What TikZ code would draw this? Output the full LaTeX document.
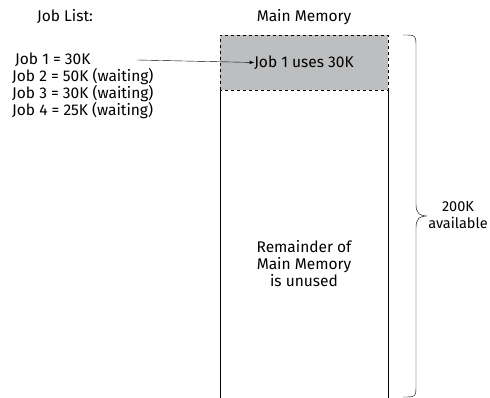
\documentclass[tikz,border=0pt]{standalone}
\usepackage{fontspec}
\setmainfont{Fira Sans}
\usepackage{xcolor}
\usetikzlibrary{positioning,calc,arrows.meta}

\definecolor{memgray}{HTML}{BDBEC0}
\tikzset{
  lbl/.style={font=\fontsize{15.5}{17}\selectfont, inner sep=0pt},
  joblbl/.style={lbl, anchor=west},
}

\begin{document}
\begin{tikzpicture}[x=1pt, y=1pt]
  \useasboundingbox (0,0) rectangle (490,398);
  % Headings
  \node[lbl] (joblist) at (65,381) {Job List:};
  \node[lbl] (mainmem) at (304,381) {Main Memory};

  % Job list
  \node[joblbl] (job1) at (15,338) {Job 1 = 30K};
  \node[joblbl] (job2) at (12,321) {Job 2 = 50K (waiting)};
  \node[joblbl] (job3) at (12,304) {Job 3 = 30K (waiting)};
  \node[joblbl] (job4) at (12,287) {Job 4 = 25K (waiting)};

  % Main memory: used part (dashed) and the rest
  \draw[thin, dashed, fill=memgray] (220,308) rectangle (388,363) node[midway, lbl] (used) {Job 1 uses 30K};
  \draw[thin] (220,308) -- (220,0);
  \draw[thin] (388,308) -- (388,0);
  \node[lbl, align=center] (rest) at (304,134) {Remainder of\\Main Memory\\is unused};

  % Arrow from the job list
  \coordinate (arrtail) at (137,338);
  \draw[thin, -{Stealth[length=5pt, width=3.5pt]}] (arrtail) -- (used.west);

  % Brace
  \draw[thin] (403,363) .. controls (416,363) .. (416,350) -- (416,194)
    .. controls (416,184) and (420,182) .. (427,182)
    .. controls (420,182) and (416,180) .. (416,170) -- (416,14)
    .. controls (416,1) .. (403,1);
  \node[lbl, font=\fontsize{14.5}{17}\selectfont, align=center] (avail) at (458,183) {200K\\available};
\end{tikzpicture}
\end{document}
